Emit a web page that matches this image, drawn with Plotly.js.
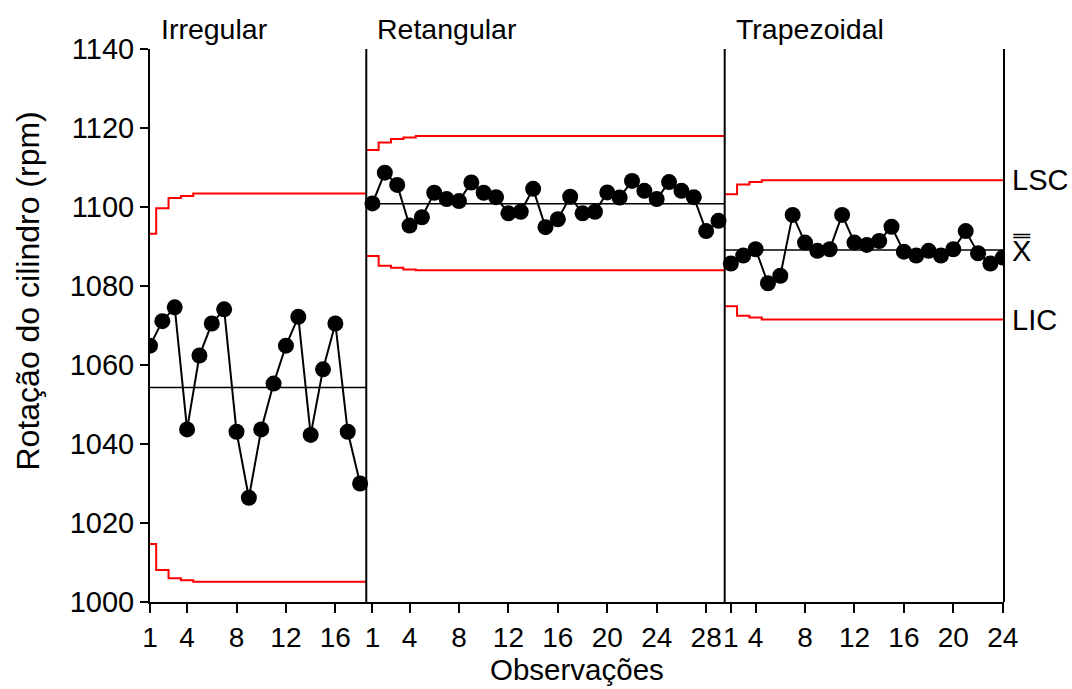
<!DOCTYPE html>
<html>
<head>
<meta charset="utf-8">
<script src="https://cdn.plot.ly/plotly-3.0.1.min.js"></script>
<style>html,body{margin:0;padding:0;background:#fff;}#chart{width:1072px;height:689px;}</style>
</head>
<body>
<div id="chart"></div>
<script>
// ---- data ----
const stageNames = ["Irregular", "Retangular", "Trapezoidal"];

const irregular = [1064.9, 1071.1, 1074.6, 1043.7, 1062.4, 1070.5, 1074.1, 1043.1, 1026.4,
  1043.7, 1055.3, 1064.9, 1072.2, 1042.3, 1058.9, 1070.5, 1043.1, 1030.0];
const retangular = [1100.9, 1108.7, 1105.6, 1095.3, 1097.4, 1103.6, 1102.0, 1101.5, 1106.2,
  1103.6, 1102.5, 1098.4, 1098.8, 1104.6, 1094.9, 1096.9, 1102.6, 1098.4, 1098.8, 1103.7,
  1102.4, 1106.6, 1104.1, 1102.0, 1106.3, 1104.1, 1102.5, 1093.9, 1096.5];
const trapezoidal = [1085.7, 1087.7, 1089.3, 1080.7, 1082.6, 1098.0, 1091.0, 1088.9, 1089.3,
  1098.0, 1091.0, 1090.4, 1091.4, 1095.0, 1088.7, 1087.7, 1088.9, 1087.7, 1089.3, 1093.9,
  1088.3, 1085.7, 1087.2];

const centerLines = [1054.3, 1100.8, 1089.1];

const irregularUCL = [1093.2, 1099.7, 1102.3, 1102.8, 1103.4, 1103.4, 1103.4, 1103.4, 1103.4,
  1103.4, 1103.4, 1103.4, 1103.4, 1103.4, 1103.4, 1103.4, 1103.4, 1103.4];
const irregularLCL = [1014.7, 1008.1, 1006.0, 1005.5, 1005.1, 1005.1, 1005.1, 1005.1, 1005.1,
  1005.1, 1005.1, 1005.1, 1005.1, 1005.1, 1005.1, 1005.1, 1005.1, 1005.1];
const retangularUCL = [1114.4, 1116.3, 1117.2, 1117.6, 1118.0, 1118.0, 1118.0, 1118.0, 1118.0,
  1118.0, 1118.0, 1118.0, 1118.0, 1118.0, 1118.0, 1118.0, 1118.0, 1118.0, 1118.0, 1118.0,
  1118.0, 1118.0, 1118.0, 1118.0, 1118.0, 1118.0, 1118.0, 1118.0, 1118.0];
const retangularLCL = [1087.6, 1085.1, 1084.6, 1084.2, 1084.0, 1084.0, 1084.0, 1084.0, 1084.0,
  1084.0, 1084.0, 1084.0, 1084.0, 1084.0, 1084.0, 1084.0, 1084.0, 1084.0, 1084.0, 1084.0,
  1084.0, 1084.0, 1084.0, 1084.0, 1084.0, 1084.0, 1084.0, 1084.0, 1084.0];
const trapezoidalUCL = [1103.2, 1105.7, 1106.3, 1106.8, 1106.8, 1106.8, 1106.8, 1106.8, 1106.8,
  1106.8, 1106.8, 1106.8, 1106.8, 1106.8, 1106.8, 1106.8, 1106.8, 1106.8, 1106.8, 1106.8,
  1106.8, 1106.8, 1106.8];
const trapezoidalLCL = [1074.9, 1072.5, 1072.0, 1071.5, 1071.5, 1071.5, 1071.5, 1071.5, 1071.5,
  1071.5, 1071.5, 1071.5, 1071.5, 1071.5, 1071.5, 1071.5, 1071.5, 1071.5, 1071.5, 1071.5,
  1071.5, 1071.5, 1071.5];

// tick positions (global observation index) and their labels
const tickPositions = [1, 4, 8, 12, 16, 19, 22, 26, 30, 34, 38, 42, 46, 48, 50, 54, 58, 62, 66, 70];
const tickLabels = ["1", "4", "8", "12", "16", "1", "4", "8", "12", "16", "20", "24", "28",
  "1", "4", "8", "12", "16", "20", "24"];
const yTicks = [1000, 1020, 1040, 1060, 1080, 1100, 1120, 1140];

const labelLSC = "LSC", labelCL = "X\u033F", labelLIC = "LIC";
const xTitle = "Observações";
const yTitle = "Rotação do cilindro (rpm)";

// ---- build ----
const stages = [
  {vals: irregular, ucl: irregularUCL, lcl: irregularLCL, cl: centerLines[0]},
  {vals: retangular, ucl: retangularUCL, lcl: retangularLCL, cl: centerLines[1]},
  {vals: trapezoidal, ucl: trapezoidalUCL, lcl: trapezoidalLCL, cl: centerLines[2]}
];
const FONT = "Liberation Sans, Arial, sans-serif";
const traces = [];
const shapes = [];
const annotations = [];
let offset = 0;
const total = irregular.length + retangular.length + trapezoidal.length;

function stepTrace(lim, off) {
  const xs = [off + 0.5], ys = [lim[0]];
  for (let i = 1; i < lim.length; i++) { xs.push(off + i + 0.5); ys.push(lim[i]); }
  xs.push(off + lim.length + 0.5); ys.push(lim[lim.length - 1]);
  return {x: xs, y: ys, mode: 'lines', line: {color: '#ff0000', width: 2, shape: 'hv'},
          hoverinfo: 'skip', showlegend: false};
}

stages.forEach((st, s) => {
  const n = st.vals.length;
  const xs = st.vals.map((_, i) => offset + i + 1);
  traces.push(stepTrace(st.ucl, offset));
  traces.push(stepTrace(st.lcl, offset));
  traces.push({x: [offset + 0.5, offset + n + 0.5], y: [st.cl, st.cl], mode: 'lines',
    line: {color: '#000', width: 1.5}, hoverinfo: 'skip', showlegend: false});
  traces.push({x: xs, y: st.vals, mode: 'lines+markers',
    line: {color: '#000', width: 2}, marker: {color: '#000', size: 16},
    showlegend: false});
  if (s < stages.length - 1) {
    shapes.push({type: 'line', xref: 'x', yref: 'paper', x0: offset + n + 0.5, x1: offset + n + 0.5,
      y0: 0, y1: 1, line: {color: '#000', width: 2}});
  }
  annotations.push({text: stageNames[s], xref: 'x', yref: 'paper',
    x: s === 0 ? 1 : offset + 0.5, y: 1, xanchor: 'left', yanchor: 'bottom',
    xshift: 9, yshift: 2, showarrow: false, font: {family: FONT, size: 28.5, color: '#000'}});
  offset += n;
});

shapes.push({type: 'line', xref: 'paper', yref: 'paper', x0: 1, x1: 1, y0: 0, y1: 1,
  line: {color: '#000', width: 2}});

const last = stages[stages.length - 1];
[[labelLSC, last.ucl[last.ucl.length - 1]], [labelCL, last.cl], [labelLIC, last.lcl[last.lcl.length - 1]]]
  .forEach(([t, v]) => annotations.push({text: t, xref: 'paper', yref: 'y', x: 1, y: v,
    xanchor: 'left', yanchor: 'middle', xshift: 6, showarrow: false,
    font: {family: FONT, size: 29, color: '#000'}}));

annotations.push({text: xTitle, xref: 'paper', yref: 'paper', x: 0.5, y: 0, yanchor: 'bottom',
  yshift: -86, showarrow: false, font: {family: FONT, size: 29.5, color: '#000'}});
annotations.push({text: yTitle, xref: 'paper', yref: 'paper', x: 0, y: 0.5, textangle: -90,
  xanchor: 'center', yanchor: 'middle', xshift: -123, yshift: 34, showarrow: false,
  font: {family: FONT, size: 32, color: '#000'}});

const layout = {
  width: 1072, height: 689,
  margin: {l: 150, r: 68, t: 49, b: 87},
  paper_bgcolor: '#fff', plot_bgcolor: '#fff',
  font: {family: FONT, size: 29, color: '#000'},
  showlegend: false,
  xaxis: {range: [1, total + 0.1], showgrid: false, zeroline: false, showline: true,
    linecolor: '#000', linewidth: 2, ticks: 'outside', ticklen: 9, tickwidth: 2,
    tickcolor: '#000', tickmode: 'array', tickvals: tickPositions, ticktext: tickLabels,
    tickangle: 0, tickfont: {family: FONT, size: 28, color: '#000'}},
  yaxis: {range: [1000, 1140], showgrid: false, zeroline: false, showline: true,
    linecolor: '#000', linewidth: 2, ticks: 'outside', ticklen: 8, tickwidth: 2,
    tickcolor: '#000', tickmode: 'array', tickvals: yTicks,
    tickfont: {family: FONT, size: 29, color: '#000'}},
  shapes: shapes,
  annotations: annotations
};

Plotly.newPlot('chart', traces, layout, {displayModeBar: false, staticPlot: true});
</script>
</body>
</html>
